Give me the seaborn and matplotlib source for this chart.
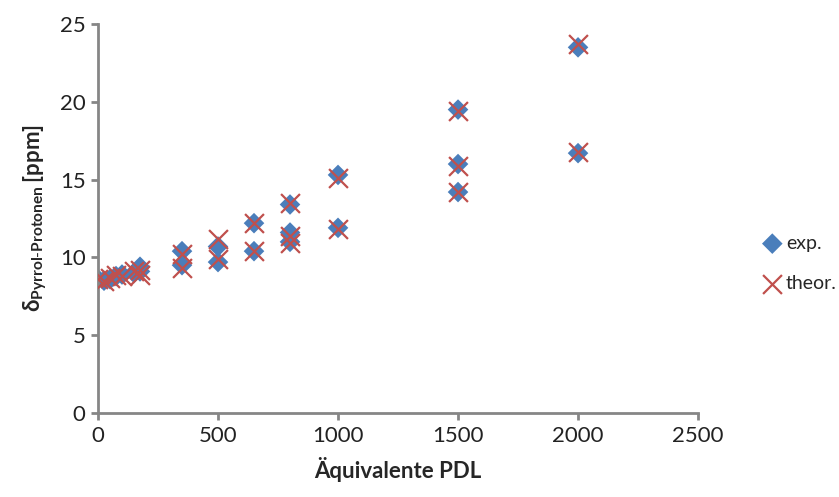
import pandas as pd
import seaborn as sns
import matplotlib.pyplot as plt

# Data
pdl_eq = [0, 25, 50, 75, 100, 150, 175, 175, 350, 350, 500, 500,
          650, 650, 800, 800, 800, 1000, 1000, 1500, 1500, 1500, 2000, 2000]
shift_exp = [8.6, 8.5, 8.6, 8.8, 8.9, 9.0, 9.4, 9.1, 10.4, 9.5, 10.7, 9.7,
             12.2, 10.4, 13.4, 11.6, 11.0, 15.3, 11.9, 19.5, 16.0, 14.2, 23.5, 16.7]
shift_theor = [8.6, 8.5, 8.7, 8.9, 8.8, 9.1, 9.2, 8.9, 10.2, 9.3, 11.2, 9.9,
               12.2, 10.4, 13.5, 11.4, 10.9, 15.1, 11.8, 19.4, 15.9, 14.2, 23.7, 16.8]

x_ticks = [0, 500, 1000, 1500, 2000, 2500]
y_ticks = [0, 5, 10, 15, 20, 25]

df = pd.DataFrame({'pdl': pdl_eq, 'exp': shift_exp, 'theor': shift_theor})

sns.set_theme(style='white')
plt.rcParams['font.family'] = ['Lato', 'DejaVu Sans']
plt.rcParams['mathtext.fontset'] = 'custom'
plt.rcParams['mathtext.rm'] = 'Lato'
plt.rcParams['mathtext.bf'] = 'Lato:bold'

axis_gray = '#868686'

fig = plt.figure(figsize=(8.39, 4.97), dpi=100)
ax = fig.add_axes([0.1168, 0.169, 0.7152, 0.7827])

sns.scatterplot(data=df, x='pdl', y='exp', ax=ax, marker='D', s=110,
                color='#4A7EBB', edgecolor='none', label='exp.', zorder=2)
sns.scatterplot(data=df, x='pdl', y='theor', ax=ax, marker='x', s=185,
                color='#C0504D', linewidth=1.6, label='theor.', zorder=3)

ax.set_xlim(0, 2500)
ax.set_ylim(0, 25)
ax.set_xticks(x_ticks)
ax.set_yticks(y_ticks)

# Axis styling (gray spines, outside ticks)
sns.despine(ax=ax)
for side in ['left', 'bottom']:
    ax.spines[side].set_color(axis_gray)
    ax.spines[side].set_linewidth(2.0)
ax.tick_params(axis='both', direction='out', length=5, width=2.0,
               color=axis_gray, labelsize=16, labelcolor='#222222', pad=4,
               left=True, bottom=True)
for lab in ax.get_xticklabels():
    lab.set_clip_on(False)

ax.set_xlabel('Äquivalente PDL', fontsize=16, fontweight='bold', labelpad=8)
ax.set_ylabel(r'$\mathbf{\delta}_{\mathbf{Pyrrol\text{-}Protonen}}\,$[ppm]',
              fontsize=16, fontweight='bold', labelpad=8)

ax.legend(loc='center left', bbox_to_anchor=(0.895, 0.47),
          bbox_transform=fig.transFigure, frameon=False, fontsize=14,
          handletextpad=0.1, labelspacing=1.2, borderpad=0, handlelength=1.2)

plt.savefig('out.png', dpi=100)
